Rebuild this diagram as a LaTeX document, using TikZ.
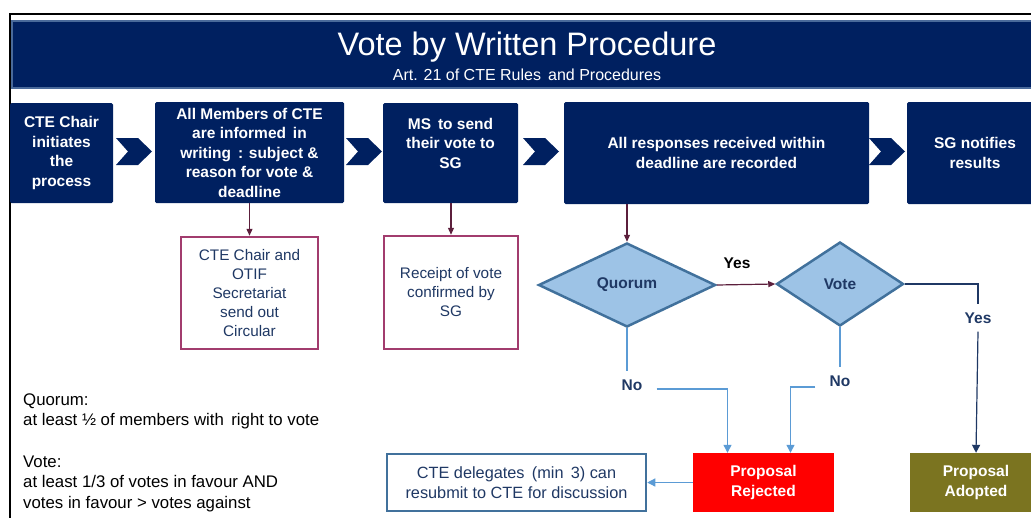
\documentclass[tikz,border=0pt]{standalone}
\usepackage{fontspec}
\setmainfont{Liberation Sans}
\usetikzlibrary{shapes.geometric,arrows.meta}

\definecolor{navy}{HTML}{002060}
\definecolor{bandborder}{HTML}{4A6A9A}
\definecolor{magbox}{HTML}{A23C6E}
\definecolor{maroonline}{HTML}{5C1F3C}
\definecolor{dkblue}{HTML}{1F3864}
\definecolor{ltblue}{HTML}{5B9BD5}
\definecolor{diafill}{HTML}{9DC3E6}
\definecolor{diaborder}{HTML}{41719C}
\definecolor{olivebox}{HTML}{7B7420}
\definecolor{redbox}{HTML}{FF0000}

\begin{document}
\begin{tikzpicture}[x=1pt,y=-1pt,
  stepbox/.style={fill=navy, text=white, font=\bfseries\fontsize{15.5}{19.5}\selectfont,
    align=center, inner sep=0pt, rounded corners=1.5pt},
  subbox/.style={draw=magbox, line width=2.5pt, fill=white, text=dkblue,
    font=\fontsize{15.3}{19}\selectfont, align=center, inner sep=0pt},
  decision/.style={diamond, aspect=2.1, draw=diaborder, line width=2.5pt, fill=diafill,
    text=dkblue, font=\bfseries\fontsize{15.5}{18}\selectfont, inner sep=0pt},
  resultbox/.style={text=white, font=\bfseries\fontsize{15.5}{19.5}\selectfont,
    align=center, inner sep=0pt},
  lbl/.style={font=\bfseries\fontsize{15.5}{18}\selectfont, inner xsep=14pt, inner ysep=8pt},
  noteblock/.style={anchor=west, align=left, font=\fontsize{16.8}{20.5}\selectfont, inner sep=0pt},
  mline/.style={draw=maroonline, line width=1.2pt, -{Triangle[length=7pt,width=6pt]}},
  bline/.style={draw=ltblue, line width=1.2pt},
  barrow/.style={draw=ltblue, line width=1.2pt, -{Triangle[length=8pt,width=8pt]}},
  nline/.style={draw=dkblue, line width=1.2pt},
  chev/.pic={\fill[navy] (0,0) -- (22,0) -- (36,13.5) -- (22,27) -- (0,27) -- (12,13.5) -- cycle;}
]
\useasboundingbox (0,0) rectangle (1031,517);
\clip (0,0) rectangle (1031,517);

% outer frame
\draw[line width=2pt] (9.5,520) |- (1035,13.5);

% title band
\draw[fill=navy, draw=bandborder, line width=2pt] (12,21) rectangle (1045,88);
\node[text=white, font=\fontsize{32.5}{34}\selectfont] (title) at (527,47) {Vote by Written Procedure};
\node[text=white, font=\fontsize{16}{18}\selectfont] (subtitle) at (527,74.5) {Art. 21 of CTE Rules\, and Procedures};

% process boxes
\node[stepbox, minimum width=103pt, minimum height=100pt] (b1) at (61.5,153)
  {CTE Chair\\initiates\\the\\process};
\node[stepbox, minimum width=189pt, minimum height=101pt] (b2) at (249.5,152.5)
  {All Members of CTE\\are informed\, in\\writing\, : subject \&\\reason for vote \&\\deadline};
\node[stepbox, minimum width=135pt, minimum height=100pt] (b3) at (450.5,153)
  {MS\, to send\\their vote to\\SG\\\mbox{}};
\node[stepbox, minimum width=305pt, minimum height=102pt] (b4) at (716.5,153)
  {All responses received within\\deadline are recorded};
\node[stepbox, minimum width=136pt, minimum height=102pt] (b5) at (975,153)
  {SG notifies\\results};

% chevrons
\pic at (116,138) {chev};
\pic at (346,138) {chev};
\pic at (523,138) {chev};
\pic at (869,138) {chev};

% sub boxes
\node[subbox, minimum width=137pt, minimum height=112pt] (circ) at (249.5,293)
  {CTE Chair and\\OTIF\\Secretariat\\send out\\Circular};
\node[subbox, minimum width=134pt, minimum height=113pt] (rcpt) at (451,292.5)
  {Receipt of vote\\confirmed by\\SG};

% decisions
\node[decision, minimum width=177pt, minimum height=84pt] (quorum) at (627,285) {Quorum};
\node[decision, minimum width=127pt, minimum height=84pt] (vote) at (840,284) {Vote};

% results
\node[resultbox, fill=redbox, minimum width=141pt, minimum height=59pt] (rej) at (763.5,482.5)
  {Proposal\\Rejected};
\node[resultbox, fill=olivebox, minimum width=132pt, minimum height=59pt] (adopt) at (976,482.5)
  {Proposal\\Adopted};
\node[draw=diaborder, line width=2.5pt, text=dkblue, align=center, inner sep=0pt,
  font=\fontsize{16.3}{20}\selectfont, minimum width=259pt, minimum height=57pt] (deleg) at (516.5,482.5)
  {CTE delegates\, (min\, 3) can\\resubmit to CTE for discussion};

% labels
\node[font=\bfseries\fontsize{15.5}{18}\selectfont, inner sep=0pt] (yes1) at (737,263) {Yes};
\node[lbl, text=dkblue] (yes2) at (978,318) {Yes};
\node[lbl, text=dkblue] (no1) at (632,385) {No};
\node[lbl, text=dkblue] (no2) at (840,381) {No};

% notes
\node[noteblock] (note1) at (23,411.5) {Quorum:\\at least ½ of members with\, right to vote};
\node[noteblock] (note2) at (23,483.5) {Vote:\\at least 1/3 of votes in favour AND\\votes in favour > votes against};

% connectors
\draw[mline] (b2.south) -- (circ.north);
\draw[mline] (b3.south -| rcpt.north) -- (rcpt.north);
\draw[mline] (b4.south -| quorum.north) -- (quorum.north);
\draw[mline] (quorum.east) -- (vote.west);

\draw[nline] (vote.east) -| (yes2.north);
\draw[nline, -{Triangle[length=8pt,width=8pt]}] (yes2.south) -- (adopt.north);

\draw[bline] (quorum.south) -- (quorum.south |- no1.north);
\draw[barrow] ([yshift=-4pt]no1.east) -| ([xshift=-36pt]rej.north);
\draw[bline] (vote.south) -- (vote.south |- no2.north);
\draw[barrow] ([yshift=-6pt]no2.west) -| ([xshift=27pt]rej.north);

\draw[barrow] (rej.west) -- (deleg.east);
\end{tikzpicture}
\end{document}
